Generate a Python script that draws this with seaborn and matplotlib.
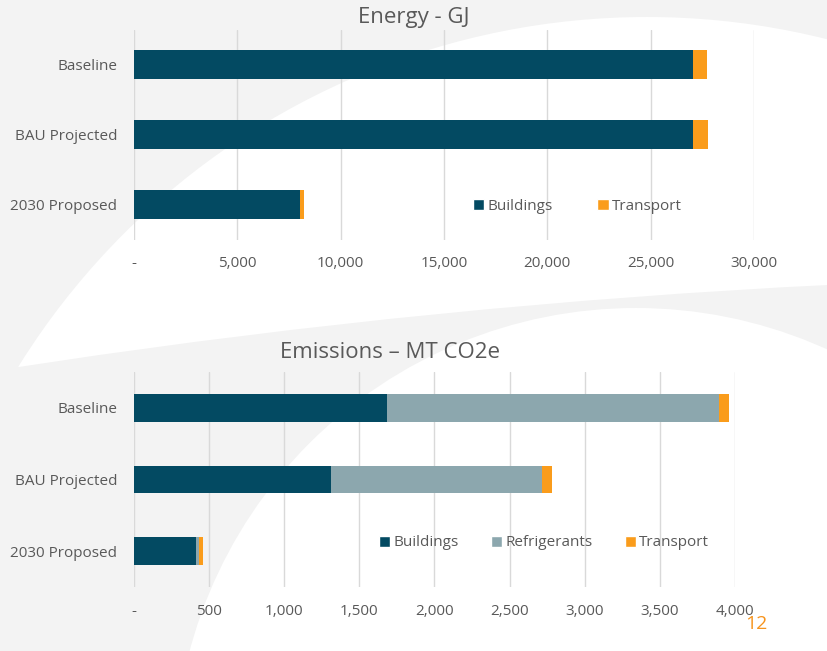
import matplotlib
matplotlib.use("Agg")
import matplotlib.pyplot as plt
from matplotlib.patches import Circle, Patch
from matplotlib.ticker import FuncFormatter
import seaborn as sns
import pandas as pd
import numpy as np

# ---------------- data ----------------
scenarios = ["Baseline", "BAU Projected", "2030 Proposed"]

energy_buildings = [27050, 27050, 8020]
energy_transport = [680, 710, 230]
energy_ticks = [0, 5000, 10000, 15000, 20000, 25000, 30000]

emis_buildings = [1685, 1310, 415]
emis_refrigerants = [2210, 1405, 20]
emis_transport = [66, 68, 22]
emis_ticks = [0, 500, 1000, 1500, 2000, 2500, 3000, 3500, 4000]

C_BUILD = "#034A62"
C_REFRIG = "#8CA7AE"
C_TRANS = "#FA9C1B"
TXT = "#595959"
BG = "#f3f3f3"

sns.set_style("white")
plt.rcParams["font.family"] = ["Open Sans", "DejaVu Sans"]

W, H = 828, 651
fig = plt.figure(figsize=(W / 100, H / 100), dpi=100, facecolor=BG)

def px(x, y):
    return (x / 100, (H - y) / 100)

# background swoosh
for (cx, cy, r, col) in [(647, 757, 740, "white"), (1225, 8232, 7957, BG), (636, 770, 462, "white")]:
    fig.patches.append(Circle(px(cx, cy), r / 100, transform=fig.dpi_scale_trans,
                              facecolor=col, edgecolor="none", zorder=-10))

def fmt(v, pos):
    return "-" if v == 0 else f"{v:,.0f}"

def make_axes(rect_px):
    x0, y0, x1, y1 = rect_px
    ax = fig.add_axes([x0 / W, 1 - y1 / H, (x1 - x0) / W, (y1 - y0) / H])
    ax.set_facecolor("none")
    return ax

def stacked(ax, layers, colors, width):
    cum = np.zeros(len(scenarios))
    cums = []
    for layer in layers:
        cum = cum + np.array(layer, dtype=float)
        cums.append(cum.copy())
    for total, col in reversed(list(zip(cums, colors))):
        df = pd.DataFrame({"scenario": scenarios, "value": total})
        sns.barplot(data=df, y="scenario", x="value", orient="h", color=col,
                    saturation=1, width=width, ax=ax, linewidth=0)

def style(ax, ticks, xmax):
    ax.set_xlim(0, xmax)
    ax.set_ylim(2.5, -0.5)
    ax.set_xticks(ticks)
    ax.xaxis.set_major_formatter(FuncFormatter(fmt))
    ax.grid(axis="x", color="#d9d9d9", linewidth=1)
    ax.grid(axis="y", visible=False)
    ax.set_axisbelow(True)
    for s in ax.spines.values():
        s.set_visible(False)
    ax.tick_params(axis="x", length=0, pad=12, labelsize=11, labelcolor=TXT)
    ax.tick_params(axis="y", length=0, pad=12, labelsize=11, labelcolor=TXT)
    ax.set_xlabel("")
    ax.set_ylabel("")

leg_kw = dict(loc="center left", frameon=False, borderpad=0, borderaxespad=0,
              handlelength=0.75, handleheight=0.75, handletextpad=0.2,
              fontsize=11, labelcolor=TXT)

# ---------- top chart ----------
ax1 = make_axes((134, 29.5, 754, 239.5))
stacked(ax1, [energy_buildings, energy_transport], [C_BUILD, C_TRANS], 0.41)
style(ax1, energy_ticks, 30000)
fig.text(414 / W, 1 - 17 / H, "Energy - GJ", ha="center", va="center", fontsize=16, color=TXT)
h1 = [Patch(facecolor=C_BUILD, label="Buildings"), Patch(facecolor=C_TRANS, label="Transport")]
fig.legend(handles=h1, bbox_to_anchor=(473 / W, 1 - 206 / H), ncol=2, columnspacing=2.9, **leg_kw)

# ---------- bottom chart ----------
ax2 = make_axes((134, 372, 735, 587))
stacked(ax2, [emis_buildings, emis_refrigerants, emis_transport], [C_BUILD, C_REFRIG, C_TRANS], 0.39)
style(ax2, emis_ticks, 4000)
fig.text(390 / W, 1 - 353 / H, "Emissions \u2013 MT CO2e", ha="center", va="center", fontsize=16, color=TXT)
h2 = [Patch(facecolor=C_BUILD, label="Buildings"), Patch(facecolor=C_REFRIG, label="Refrigerants"),
      Patch(facecolor=C_TRANS, label="Transport")]
fig.legend(handles=h2, bbox_to_anchor=(379 / W, 1 - 543 / H), ncol=3, columnspacing=2.1, **leg_kw)

fig.text(756 / W, 1 - 624 / H, "12", ha="center", va="center", fontsize=14, color="#F7941D")

fig.savefig("out.png", dpi=100, facecolor=fig.get_facecolor())
